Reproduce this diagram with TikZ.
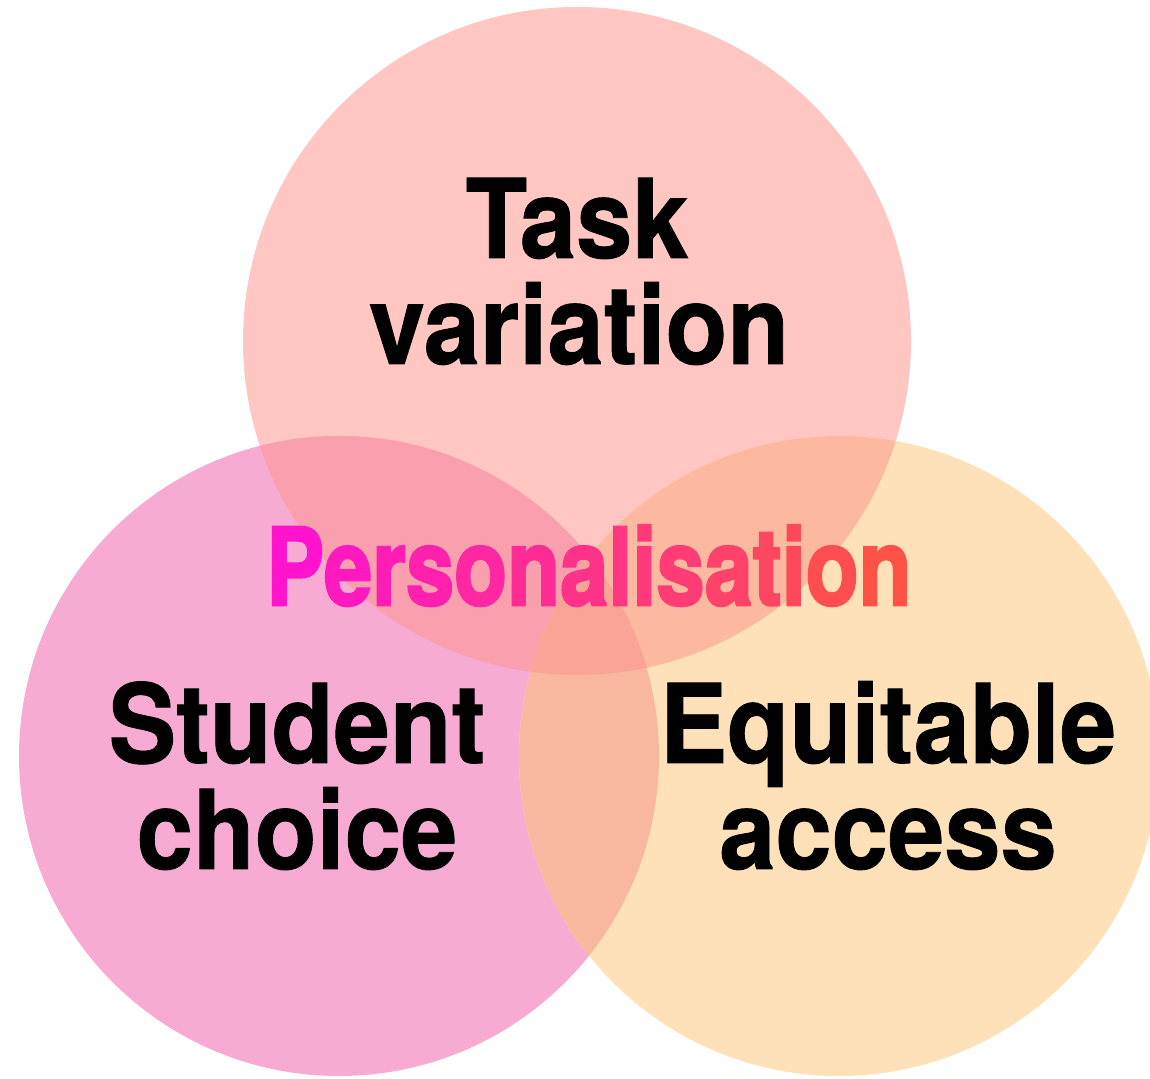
\documentclass[tikz,border=0pt]{standalone}
\usepackage{fontspec}
\setmainfont{TeX Gyre Heros}
\newfontfamily\persfont[BoldFeatures={FakeBold=2.5}]{TeX Gyre Heros}
\newfontfamily\lblfont[BoldFeatures={FakeBold=0.8}]{TeX Gyre Heros}
\definecolor{colT}{HTML}{FFC6C2}
\definecolor{colL}{HTML}{F7ABD2}
\definecolor{colR}{HTML}{FEE1B9}
\definecolor{colTL}{HTML}{FA9FAE}
\definecolor{colTR}{HTML}{FCB99F}
\definecolor{colLR}{HTML}{F9B7A0}
\definecolor{colTLR}{HTML}{F9A497}
\definecolor{persA}{HTML}{FF10D2}
\definecolor{persB}{HTML}{FF5540}
\newcommand\lblsq[1]{\scalebox{0.92}[1]{#1}}
\newcommand\pletter[2]{\textcolor{persB!#1!persA}{#2}}
\begin{document}
\begin{tikzpicture}[x=1pt,y=1pt,
  lbl/.style={font=\lblfont\fontsize{110}{110}\selectfont\bfseries, inner sep=0pt, text=black, anchor=base},
  perslbl/.style={font=\persfont\fontsize{107}{107}\selectfont\bfseries, inner sep=0pt, anchor=base}]
\useasboundingbox (0,0) rectangle (1150,1078);
\clip (0,0) rectangle (1150,1078);
\coordinate (cT) at (577,737);
\coordinate (cL) at (339,322);
\coordinate (cR) at (839,322);
% single circles
\fill[colT] (cT) circle[radius=334pt];
\fill[colL] (cL) circle[radius=320pt];
\fill[colR] (cR) circle[radius=320pt];
% pairwise overlaps
\begin{scope}
  \clip (cT) circle[radius=334pt];
  \fill[colTL] (cL) circle[radius=320pt];
\end{scope}
\begin{scope}
  \clip (cT) circle[radius=334pt];
  \fill[colTR] (cR) circle[radius=320pt];
\end{scope}
\begin{scope}
  \clip (cL) circle[radius=320pt];
  \fill[colLR] (cR) circle[radius=320pt];
\end{scope}
\begin{scope}
  \clip (cT) circle[radius=334pt];
  \clip (cL) circle[radius=320pt];
  \fill[colTLR] (cR) circle[radius=320pt];
\end{scope}
% labels
\node[lbl] (task1) at (577,820) {\lblsq{Task}};
\node[lbl] (task2) at (579,714) {\lblsq{variation}};
\node[lbl] (stud1) at (297,315) {\lblsq{Student}};
\node[lbl] (stud2) at (297,209) {\lblsq{choice}};
\node[lbl] (equi1) at (888,315) {\lblsq{Equitable}};
\node[lbl] (equi2) at (888,209) {\lblsq{access}};
% gradient title
\node[perslbl] (pers) at (589,473) {\scalebox{0.81}[1]{%
\pletter{4}{P}\pletter{13}{e}\pletter{19}{r}\pletter{25}{s}\pletter{33}{o}%
\pletter{41}{n}\pletter{49}{a}\pletter{55}{l}\pletter{59}{i}\pletter{64}{s}%
\pletter{72}{a}\pletter{78}{t}\pletter{82}{i}\pletter{88}{o}\pletter{96}{n}}};
\end{tikzpicture}
\end{document}
